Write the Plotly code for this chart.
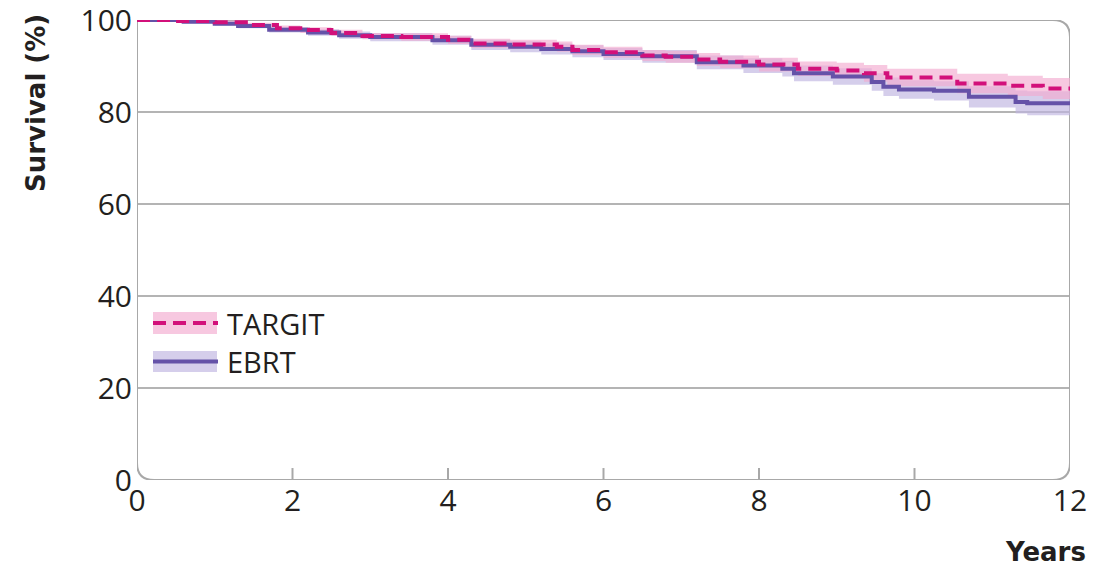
import plotly.graph_objects as go

# ---------------- data ----------------
targit_t = [0, 0.5, 1.0, 1.4, 1.8, 2.1, 2.5, 2.9, 3.4, 4.0, 4.3, 4.8, 5.4, 5.6, 6.0, 6.5, 6.8,
            7.2, 7.5, 8.0, 8.5, 9.0, 9.35, 9.65, 10.55, 11.2, 11.65, 12]
targit_s = [100, 99.8, 99.5, 98.9, 98.2, 97.8, 97.2, 96.5, 96.3, 95.7, 94.9, 94.7, 94.2, 93.5, 93.0,
            92.3, 92.0, 91.4, 90.9, 90.3, 89.4, 89.0, 88.4, 87.5, 86.2, 85.7, 85.1, 85.1]
targit_lo = [100, 99.6, 99.1, 98.4, 97.6, 97.2, 96.5, 95.8, 95.5, 94.8, 93.9, 93.7, 93.1, 92.4, 91.8,
             91.1, 90.7, 90.0, 89.5, 88.8, 87.8, 87.3, 86.6, 85.6, 84.1, 83.5, 82.8, 82.8]
targit_hi = [100, 100, 99.9, 99.4, 98.8, 98.4, 97.9, 97.2, 97.1, 96.6, 95.9, 95.7, 95.3, 94.6, 94.2,
             93.5, 93.3, 92.8, 92.3, 91.8, 91.0, 90.7, 90.2, 89.4, 88.3, 87.9, 87.4, 87.4]

ebrt_t = [0, 0.6, 1.0, 1.3, 1.7, 2.2, 2.6, 3.0, 3.8, 4.3, 4.8, 5.2, 5.6, 6.0, 6.5, 7.2, 7.8, 8.3,
          8.45, 8.95, 9.45, 9.6, 9.8, 10.25, 10.7, 11.3, 11.45, 12]
ebrt_s = [100, 99.6, 99.2, 98.7, 97.9, 97.3, 96.7, 96.3, 95.6, 94.6, 94.2, 93.7, 93.2, 92.6, 92.1,
          90.8, 90.1, 89.4, 88.4, 87.7, 86.5, 85.5, 84.9, 84.6, 83.3, 82.2, 81.9, 81.9]
ebrt_lo = [100, 99.3, 98.8, 98.2, 97.3, 96.6, 95.9, 95.4, 94.6, 93.5, 93.0, 92.5, 91.9, 91.3, 90.7,
           89.3, 88.5, 87.7, 86.7, 85.9, 84.6, 83.5, 82.9, 82.5, 81.0, 79.7, 79.3, 79.3]
ebrt_hi = [100, 99.9, 99.6, 99.2, 98.5, 98.0, 97.5, 97.2, 96.6, 95.7, 95.4, 94.9, 94.5, 93.9, 93.5,
           92.3, 91.7, 91.1, 90.1, 89.5, 88.4, 87.5, 86.9, 86.7, 85.6, 84.7, 84.5, 84.5]

x_ticks = [0, 2, 4, 6, 8, 10, 12]
y_ticks = [0, 20, 40, 60, 80, 100]
grid_vals = [20, 40, 60, 80]
minor_tick_vals = [2, 4, 6, 8, 10]

# ---------------- styles ----------------
TARGIT_LINE = "#d2107a"
TARGIT_BAND = "rgba(242,170,208,0.65)"
EBRT_LINE = "#6552a8"
EBRT_BAND = "rgba(190,180,225,0.65)"
GRID = "#b4b4b4"
TXT = "#231f20"
LW = 4
DASH = "13px,7px"

fig = go.Figure()

# EBRT band
fig.add_trace(go.Scatter(x=ebrt_t, y=ebrt_hi, mode="lines", line=dict(width=0, shape="hv"),
                         hoverinfo="skip", showlegend=False))
fig.add_trace(go.Scatter(x=ebrt_t, y=ebrt_lo, mode="lines", line=dict(width=0, shape="hv"),
                         fill="tonexty", fillcolor=EBRT_BAND, hoverinfo="skip", showlegend=False))
# TARGIT band
fig.add_trace(go.Scatter(x=targit_t, y=targit_hi, mode="lines", line=dict(width=0, shape="hv"),
                         hoverinfo="skip", showlegend=False))
fig.add_trace(go.Scatter(x=targit_t, y=targit_lo, mode="lines", line=dict(width=0, shape="hv"),
                         fill="tonexty", fillcolor=TARGIT_BAND, hoverinfo="skip", showlegend=False))
# lines
fig.add_trace(go.Scatter(x=ebrt_t, y=ebrt_s, mode="lines", name="EBRT",
                         line=dict(color=EBRT_LINE, width=LW, shape="hv"), showlegend=False))
fig.add_trace(go.Scatter(x=targit_t, y=targit_s, mode="lines", name="TARGIT",
                         line=dict(color=TARGIT_LINE, width=LW, shape="hv", dash=DASH),
                         showlegend=False))

shapes = []
# gridlines
for g in grid_vals:
    shapes.append(dict(type="line", xref="x", yref="y", x0=0, x1=12, y0=g, y1=g,
                       line=dict(color=GRID, width=2), layer="below"))
# rounded frame (square top-left)
rx, ry = 0.22, 3.7
path = (f"M 0,100 L {12-rx},100 Q 12,100 12,{100-ry} L 12,{ry} Q 12,0 {12-rx},0 "
        f"L {rx},0 Q 0,0 0,{ry} Z")
shapes.append(dict(type="path", xref="x", yref="y", path=path,
                   line=dict(color="#a8a8a8", width=2), layer="below"))
# small inside ticks on x axis
for v in minor_tick_vals:
    shapes.append(dict(type="line", xref="x", yref="y", x0=v, x1=v, y0=0, y1=2.6,
                       line=dict(color="#a8a8a8", width=2)))

# legend (drawn)
def px_x(p):
    return (p - 137) / 933.0

def px_y(p):
    return (480 - p) / 460.0

legend_items = [("TARGIT", TARGIT_BAND, TARGIT_LINE, DASH, 312, 334),
                ("EBRT", EBRT_BAND, EBRT_LINE, "solid", 351, 372)]
annotations = []
for name, band, col, dash, top, bot in legend_items:
    shapes.append(dict(type="rect", xref="paper", yref="paper", x0=px_x(153), x1=px_x(217),
                       y0=px_y(bot), y1=px_y(top), fillcolor=band, line=dict(width=0)))
    mid = (top + bot) / 2
    shapes.append(dict(type="line", xref="paper", yref="paper", x0=px_x(153), x1=px_x(218),
                       y0=px_y(mid), y1=px_y(mid), line=dict(color=col, width=LW, dash=dash)))
    annotations.append(dict(text=name, xref="paper", yref="paper", x=px_x(225), y=px_y(mid),
                            xanchor="left", yanchor="middle", showarrow=False,
                            font=dict(family="Open Sans", size=29, color=TXT)))

annotations.append(dict(text="<b>Survival (%)</b>", xref="paper", yref="paper",
                        x=px_x(36), y=px_y(103), textangle=-90, xanchor="center",
                        yanchor="middle", showarrow=False,
                        font=dict(family="DejaVu Sans", size=26, color=TXT)))
annotations.append(dict(text="<b>Years</b>", xref="paper", yref="paper",
                        x=px_x(1088), y=px_y(552), xanchor="right", yanchor="middle",
                        showarrow=False, font=dict(family="DejaVu Sans", size=26, color=TXT)))

fig.update_layout(
    width=1117, height=566,
    margin=dict(l=137, r=47, t=20, b=86),
    paper_bgcolor="white", plot_bgcolor="white",
    shapes=shapes, annotations=annotations,
    xaxis=dict(range=[0, 12], tickvals=x_ticks, ticktext=[str(v) for v in x_ticks],
               showgrid=False, zeroline=False, showline=False, ticks="", automargin=False,
               ticklabeloverflow="allow",
               tickfont=dict(family="Open Sans", size=30, color=TXT)),
    yaxis=dict(range=[0, 100], tickvals=y_ticks, ticktext=[str(v) for v in y_ticks],
               showgrid=False, zeroline=False, showline=False, ticks="", automargin=False,
               ticklabelstandoff=4, ticklabeloverflow="allow",
               tickfont=dict(family="Open Sans", size=30, color=TXT)),
    showlegend=False,
)

fig.write_html("out.html", config={"displayModeBar": False},
               post_script="document.body.style.margin='0';")
